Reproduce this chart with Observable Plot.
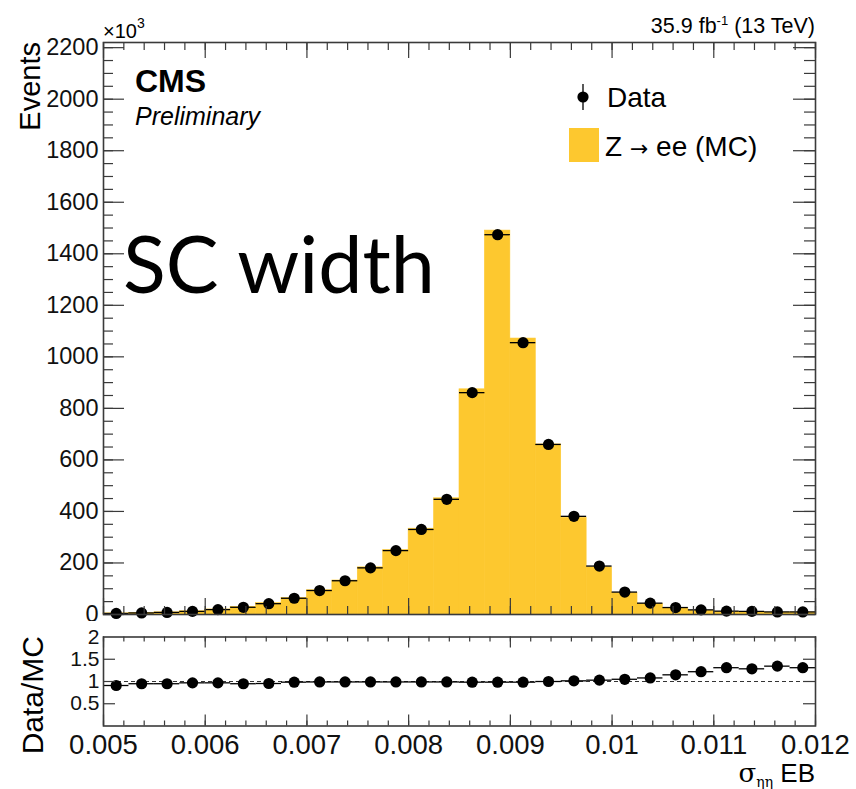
<!DOCTYPE html>
<html>
<head>
<meta charset="utf-8">
<script src="https://cdn.jsdelivr.net/npm/d3@7"></script>
<script src="https://cdn.jsdelivr.net/npm/@observablehq/plot@0.6"></script>
<style>
  body { margin: 0; background: #fff; }
  #wrap { position: relative; width: 856px; height: 789px; overflow: hidden; background: #fff; }
  #wrap > svg { position: absolute; left: 0; }
</style>
</head>
<body>
<div id="wrap"></div>
<script>
// ---------- data ----------
const binWidth = 0.00025;
const binLow = [0.005, 0.00525, 0.0055, 0.00575, 0.006, 0.00625, 0.0065, 0.00675, 0.007, 0.00725,
                0.0075, 0.00775, 0.008, 0.00825, 0.0085, 0.00875, 0.009, 0.00925, 0.0095, 0.00975,
                0.01, 0.01025, 0.0105, 0.01075, 0.011, 0.01125, 0.0115, 0.01175];
// Events (x10^3)
const dataEvents = [4, 6, 8, 12, 19, 28, 42, 63, 93, 131, 181, 248, 330, 447, 861, 1474, 1055, 660,
                    381, 188, 87, 44, 27, 18, 13, 12, 10, 10];
const mcEvents = [4.4, 6.3, 8.4, 12.4, 19.6, 29.5, 44, 64, 94, 132, 183, 250, 333, 451, 874, 1490, 1071, 660,
                  375, 183, 83, 41, 23.5, 14.8, 9.9, 9.3, 7.4, 7.6];
const ratioValues = [0.91, 0.95, 0.95, 0.97, 0.97, 0.95, 0.955, 0.985, 0.99, 0.99, 0.99, 0.99, 0.99, 0.99,
                     0.985, 0.985, 0.985, 1.0, 1.015, 1.03, 1.05, 1.08, 1.15, 1.22, 1.31, 1.285, 1.345, 1.31];

// tick labels
const xMajorTicks = [0.005, 0.006, 0.007, 0.008, 0.009, 0.01, 0.011, 0.012];
const yMainTicks = [0, 200, 400, 600, 800, 1000, 1200, 1400, 1600, 1800, 2000, 2200];
const yRatioTicks = [0.5, 1, 1.5, 2];
const yRatioTickMarks = [0.5, 1, 1.5];

const xMinorTicks = d3.range(0.005, 0.01201, 0.0002);
const yMainMinor = d3.range(0, 2201, 50);

const rows = binLow.map((lo, i) => ({
  lo, hi: lo + binWidth, c: lo + binWidth / 2,
  data: dataEvents[i], mc: mcEvents[i], ratio: ratioValues[i]
}));

// ---------- layout / style ----------
const FONT = "'Liberation Sans', Arial, Helvetica, sans-serif";
const W = 856;
const ML = 103, MR = 41;
const innerW = W - ML - MR;
const tickColor = "#3a3a3a";
const yellow = "#fdc82f";

// main panel
const mainH = 622, mainMT = 42, mainMB = 8;
const mainInnerH = mainH - mainMT - mainMB;

const main = Plot.plot({
  width: W, height: mainH,
  marginLeft: ML, marginRight: MR, marginTop: mainMT, marginBottom: mainMB,
  x: {domain: [0.005, 0.012], axis: null},
  y: {domain: [0, 2220], axis: null},
  style: {fontFamily: FONT, background: "transparent", overflow: "visible", color: "#000"},
  marks: [
    Plot.rectY(rows, {x1: "lo", x2: "hi", y1: 0, y2: "mc", fill: yellow, stroke: yellow, strokeWidth: 0.6}),
    Plot.ruleY(rows, {y: "data", x1: "lo", x2: "hi", stroke: "#000", strokeWidth: 1.3}),
    Plot.dot(rows, {x: "c", y: "data", r: 5.6, fill: "#000", stroke: "none"}),
    // x ticks bottom & top
    Plot.tickX(xMinorTicks, {x: d => d, insetTop: mainInnerH - 8, stroke: tickColor, strokeWidth: 1.2}),
    Plot.tickX(xMajorTicks, {x: d => d, insetTop: mainInnerH - 16, stroke: tickColor, strokeWidth: 1.2}),
    Plot.tickX(xMinorTicks, {x: d => d, insetBottom: mainInnerH - 8, stroke: tickColor, strokeWidth: 1.2}),
    Plot.tickX(xMajorTicks, {x: d => d, insetBottom: mainInnerH - 16, stroke: tickColor, strokeWidth: 1.2}),
    // y ticks left & right
    Plot.tickY(yMainMinor, {y: d => d, insetRight: innerW - 10, stroke: tickColor, strokeWidth: 1.2}),
    Plot.tickY(yMainTicks, {y: d => d, insetRight: innerW - 21, stroke: tickColor, strokeWidth: 1.2}),
    Plot.tickY(yMainMinor, {y: d => d, insetLeft: innerW - 11, stroke: tickColor, strokeWidth: 1.2}),
    Plot.tickY(yMainTicks, {y: d => d, insetLeft: innerW - 22, stroke: tickColor, strokeWidth: 1.2}),
    Plot.axisY(yMainTicks, {anchor: "left", tickSize: 0, tickPadding: 5, fontSize: 23.5, label: null,
                            tickFormat: d => String(d), fill: "#111"}),
    Plot.frame({stroke: tickColor, strokeWidth: 1.6})
  ]
});
main.style.top = "0px";

// ratio panel
const ratioTop = 621, ratioH = 168, ratioMT = 15.5, ratioMB = 63.5;
const ratioInnerH = ratioH - ratioMT - ratioMB;

const ratio = Plot.plot({
  width: W, height: ratioH,
  marginLeft: ML, marginRight: MR, marginTop: ratioMT, marginBottom: ratioMB,
  x: {domain: [0.005, 0.012], axis: null},
  y: {domain: [0, 2], axis: null},
  style: {fontFamily: FONT, background: "#fff", overflow: "visible", color: "#000"},
  marks: [
    Plot.ruleY([1], {stroke: "#333", strokeWidth: 1, strokeDasharray: "4,3"}),
    Plot.ruleY(rows, {y: "ratio", x1: "lo", x2: "hi", stroke: "#000", strokeWidth: 1.3}),
    Plot.dot(rows, {x: "c", y: "ratio", r: 5.6, fill: "#000", stroke: "none"}),
    Plot.tickX(xMinorTicks, {x: d => d, insetTop: ratioInnerH - 5, stroke: tickColor, strokeWidth: 1.2}),
    Plot.tickX(xMajorTicks, {x: d => d, insetTop: ratioInnerH - 11, stroke: tickColor, strokeWidth: 1.2}),
    Plot.tickX(xMinorTicks, {x: d => d, insetBottom: ratioInnerH - 5, stroke: tickColor, strokeWidth: 1.2}),
    Plot.tickX(xMajorTicks, {x: d => d, insetBottom: ratioInnerH - 11, stroke: tickColor, strokeWidth: 1.2}),
    Plot.tickY(yRatioTickMarks, {y: d => d, insetRight: innerW - 12, stroke: tickColor, strokeWidth: 1.2}),
    Plot.tickY(yRatioTickMarks, {y: d => d, insetLeft: innerW - 12, stroke: tickColor, strokeWidth: 1.2}),
    Plot.axisX(xMajorTicks, {anchor: "bottom", tickSize: 0, tickPadding: 8, fontSize: 27.5, label: null,
                             tickFormat: d => String(d), fill: "#111"}),
    Plot.axisY(yRatioTicks, {anchor: "left", tickSize: 0, tickPadding: 4, fontSize: 21, label: null,
                             tickFormat: d => String(d), fill: "#111"}),
    Plot.frame({stroke: tickColor, strokeWidth: 1.6})
  ]
});
ratio.style.top = ratioTop + "px";

const wrap = document.getElementById("wrap");
wrap.appendChild(main);
wrap.appendChild(ratio);

// ---------- annotations (real text) ----------
const NS = "http://www.w3.org/2000/svg";
const ov = document.createElementNS(NS, "svg");
ov.setAttribute("width", W);
ov.setAttribute("height", 789);
ov.style.top = "0px";
ov.style.pointerEvents = "none";
ov.innerHTML = `
  <g font-family="${FONT.replace(/'/g, "")}" fill="#000">
    <text x="103" y="38" font-size="20">×10<tspan dy="-10" font-size="14">3</tspan></text>
    <text x="815" y="33" font-size="21.5" text-anchor="end">35.9 fb<tspan dy="-8" font-size="13">-1</tspan><tspan dy="8"> (13 TeV)</tspan></text>
    <text x="135" y="92" font-size="32" font-weight="bold">CMS</text>
    <text x="135" y="125" font-size="25" font-style="italic">Preliminary</text>
    <text transform="translate(40,42) rotate(-90)" font-size="29" text-anchor="end">Events</text>
    <text transform="translate(43,636) rotate(-90)" font-size="30" text-anchor="end">Data/MC</text>
    <line x1="583" y1="84" x2="583" y2="110" stroke="#000" stroke-width="1.3"/>
    <circle cx="583" cy="97" r="5.6" fill="#000"/>
    <text x="607" y="107" font-size="28">Data</text>
    <rect x="569" y="128" width="30" height="34" fill="${yellow}"/>
    <text x="605" y="156" font-size="28">Z <tspan font-family="DejaVu Sans" font-size="22">→</tspan> ee (MC)</text>
    <text x="815" y="782" font-size="26" text-anchor="end"><tspan font-family="DejaVu Serif, Liberation Serif, serif" font-size="26">σ</tspan><tspan font-family="DejaVu Serif, Liberation Serif, serif" font-size="14" dy="5">ηη</tspan><tspan dy="-5"> EB</tspan></text>
  </g>
  <text x="123" y="293" font-family="Lato, 'Open Sans', sans-serif" font-size="79" fill="#000">SC width</text>
`;
wrap.appendChild(ov);
</script>
</body>
</html>
